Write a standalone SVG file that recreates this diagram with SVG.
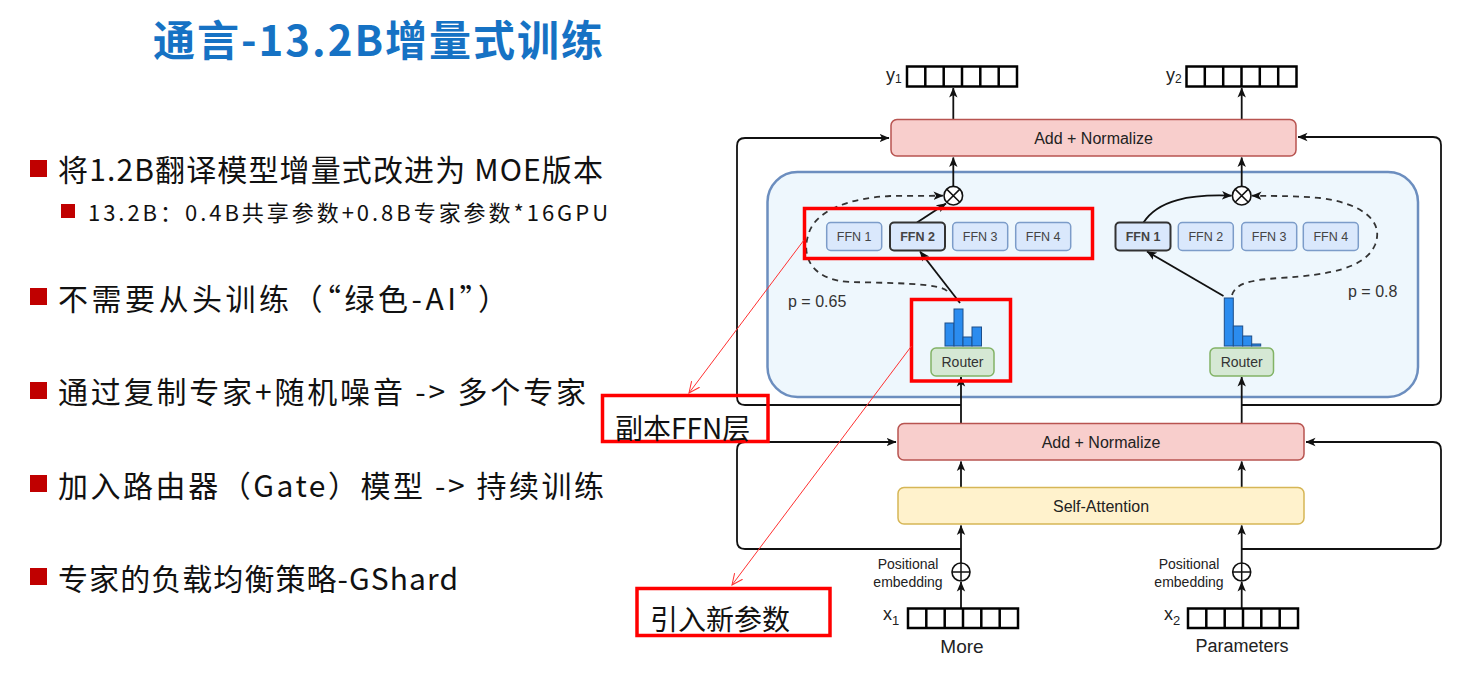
<svg xmlns="http://www.w3.org/2000/svg" width="1469" height="696" viewBox="0 0 1469 696">
  <style>
    .cjk { font-family: "Noto Sans CJK SC", "Noto Sans", sans-serif; }
    .lat { font-family: "Liberation Sans", Arial, sans-serif; }
    .bullet { fill: #c00000; }
    .btext { font-size: 30px; fill: #111; }
    .an { fill: #f8cecc; stroke: #b85450; stroke-width: 1.5; }
    .sa { fill: #fff2cc; stroke: #d6b656; stroke-width: 1.5; }
    .ffn { fill: #dae8fc; stroke: #7c9cc9; stroke-width: 1.5; }
    .ffnsel { fill: #dae8fc; stroke: #333; stroke-width: 2; }
    .router { fill: #d5e8d4; stroke: #82b366; stroke-width: 1.5; }
    .bar { fill: #2b8cef; stroke: #1d4e89; stroke-width: 1; }
    .conn { fill: none; stroke: #111; stroke-width: 1.8; }
    .dash { stroke: #333; stroke-dasharray: 6 5; }
    .vec { fill: #fff; stroke: #000; stroke-width: 2.5; }
    .redbox { fill: none; stroke: #ff0000; stroke-width: 3.5; }
    .redline { fill: none; stroke: #ff3030; stroke-width: 1; }
    .label { font-size: 16px; fill: #222; }
    .ffnt { font-size: 12.5px; fill: #444; }
    .op { fill: #fff; stroke: #111; stroke-width: 1.6; }
  </style>
  <defs>
    <marker id="arr" viewBox="0 0 10 10" refX="9.5" refY="5" markerWidth="10" markerHeight="10" markerUnits="userSpaceOnUse" orient="auto">
      <path d="M0,0.8 L10,5 L0,9.2 L2.6,5 z" fill="#111"/>
    </marker>
    <marker id="redarr" viewBox="0 0 12 12" refX="11" refY="6" markerWidth="12" markerHeight="12" markerUnits="userSpaceOnUse" orient="auto">
      <path d="M0,1 L11,6 L0,11" fill="none" stroke="#ff3030" stroke-width="1"/>
    </marker>
  </defs>
  <rect width="1469" height="696" fill="#fff"/>

  <g id="title">
    <text class="cjk" x="153" y="37" font-size="42" font-weight="bold" fill="#1672c4" dominant-baseline="central" textLength="450" lengthAdjust="spacing">通言-13.2B增量式训练</text>
  </g>

  <g id="bullets">
    <rect class="bullet" x="30" y="160" width="17" height="17"/>
    <text class="cjk btext" x="58" y="168" dominant-baseline="central" textLength="545" lengthAdjust="spacing">将1.2B翻译模型增量式改进为 MOE版本</text>
    <rect class="bullet" x="61" y="204" width="14" height="14"/>
    <text class="cjk" x="88" y="211" font-size="22" fill="#111" dominant-baseline="central" textLength="520" lengthAdjust="spacing">13.2B：0.4B共享参数+0.8B专家参数*16GPU</text>
    <rect class="bullet" x="30" y="288" width="17" height="17"/>
    <text class="cjk btext" x="58" y="297" dominant-baseline="central" textLength="450" lengthAdjust="spacing">不需要从头训练（“绿色-AI”）</text>
    <rect class="bullet" x="30" y="382" width="17" height="17"/>
    <text class="cjk btext" x="58" y="390" dominant-baseline="central" textLength="528" lengthAdjust="spacing">通过复制专家+随机噪音 -&gt; 多个专家</text>
    <rect class="bullet" x="30" y="475" width="17" height="17"/>
    <text class="cjk btext" x="58" y="484" dominant-baseline="central" textLength="546" lengthAdjust="spacing">加入路由器（Gate）模型 -&gt; 持续训练</text>
    <rect class="bullet" x="30" y="568" width="17" height="17"/>
    <text class="cjk btext" x="58" y="577" dominant-baseline="central" textLength="400" lengthAdjust="spacing">专家的负载均衡策略-GShard</text>
  </g>

  <!-- MoE container -->
  <g id="moe-block">
    <rect x="767.5" y="172" width="650.5" height="225" rx="30" fill="#eef7fd" stroke="#6c8ebf" stroke-width="2.5"/>
  </g>

  <!-- Connectors -->
  <g id="connectors">
    <path class="conn" d="M961,405 L745,405 Q737,405 737,397 L737,146 Q737,138 745,138 L889,138" marker-end="url(#arr)"/>
    <path class="conn" d="M1241.7,405 L1433,405 Q1441,405 1441,397 L1441,145 Q1441,137 1433,137 L1298,137" marker-end="url(#arr)"/>
    <path class="conn" d="M961,549 L745,549 Q737,549 737,541 L737,450 Q737,442 745,442 L896,442" marker-end="url(#arr)"/>
    <path class="conn" d="M1241.7,549 L1433,549 Q1441,549 1441,541 L1441,450 Q1441,442 1433,442 L1306,442" marker-end="url(#arr)"/>
    <path class="conn" d="M961,608 L961,582" marker-end="url(#arr)"/>
    <path class="conn" d="M961,563 L961,525.5" marker-end="url(#arr)"/>
    <path class="conn" d="M961,487.5 L961,461.5" marker-end="url(#arr)"/>
    <path class="conn" d="M961,423.5 L961,377" marker-end="url(#arr)"/>
    <path class="conn" d="M953.3,186 L953.3,157.5" marker-end="url(#arr)"/>
    <path class="conn" d="M953.3,119.5 L953.3,88" marker-end="url(#arr)"/>
    <path class="conn" d="M1241.7,608 L1241.7,582" marker-end="url(#arr)"/>
    <path class="conn" d="M1241.7,563 L1241.7,525.5" marker-end="url(#arr)"/>
    <path class="conn" d="M1241.7,487.5 L1241.7,461.5" marker-end="url(#arr)"/>
    <path class="conn" d="M1241.7,423.5 L1241.7,377" marker-end="url(#arr)"/>
    <path class="conn" d="M1241.7,186 L1241.7,157.5" marker-end="url(#arr)"/>
    <path class="conn" d="M1241.7,119.5 L1241.7,88" marker-end="url(#arr)"/>
    <path class="conn" d="M960,303 L920,251.5" marker-end="url(#arr)"/>
    <path class="conn" d="M917,222.5 L946,203.5" marker-end="url(#arr)"/>
    <path class="conn dash" d="M947,291 C940,283 890,283 850,282 C810,280 802,255 808,236 C814,210 850,198 890,196 L943,195.7" marker-end="url(#arr)"/>
    <path class="conn" d="M1223.5,296 L1147,251.5" marker-end="url(#arr)"/>
    <path class="conn" d="M1143.5,222.5 C1158,200 1190,194 1231.5,195.7" marker-end="url(#arr)"/>
    <path class="conn dash" d="M1232,295 C1236,283 1250,280 1280,278 C1330,275 1365,268 1375,245 C1385,220 1360,203 1320,198 C1300,196 1280,196 1252,195.7" marker-end="url(#arr)"/>
  </g>

  <g id="add-norm-top">
    <rect class="an" x="891" y="119.5" width="405" height="36.5" rx="6"/>
    <text class="lat label" x="1093.5" y="138" text-anchor="middle" dominant-baseline="central">Add + Normalize</text>
  </g>
  <g id="add-norm-bottom">
    <rect class="an" x="898" y="423.5" width="406" height="36.5" rx="6"/>
    <text class="lat label" x="1101" y="442" text-anchor="middle" dominant-baseline="central">Add + Normalize</text>
  </g>
  <g id="self-attention">
    <rect class="sa" x="898" y="487.5" width="406" height="36.5" rx="6"/>
    <text class="lat label" x="1101" y="506" text-anchor="middle" dominant-baseline="central">Self-Attention</text>
  </g>

  <g id="ffn-l1"><rect class="ffn" x="826.7" y="222.5" width="55" height="28" rx="4"/><text class="lat ffnt" x="854.2" y="236.5" text-anchor="middle" dominant-baseline="central">FFN 1</text></g>
  <g id="ffn-l2"><rect class="ffnsel" x="890" y="222.5" width="55" height="28" rx="4"/><text class="lat ffnt" x="917.5" y="236.5" text-anchor="middle" dominant-baseline="central" font-weight="bold" fill="#222">FFN 2</text></g>
  <g id="ffn-l3"><rect class="ffn" x="952.7" y="222.5" width="55" height="28" rx="4"/><text class="lat ffnt" x="980.2" y="236.5" text-anchor="middle" dominant-baseline="central">FFN 3</text></g>
  <g id="ffn-l4"><rect class="ffn" x="1015.7" y="222.5" width="55" height="28" rx="4"/><text class="lat ffnt" x="1043.2" y="236.5" text-anchor="middle" dominant-baseline="central">FFN 4</text></g>
  <g id="ffn-r1"><rect class="ffnsel" x="1115.5" y="222.5" width="55" height="28" rx="4"/><text class="lat ffnt" x="1143" y="236.5" text-anchor="middle" dominant-baseline="central" font-weight="bold" fill="#222">FFN 1</text></g>
  <g id="ffn-r2"><rect class="ffn" x="1178.3" y="222.5" width="55" height="28" rx="4"/><text class="lat ffnt" x="1205.8" y="236.5" text-anchor="middle" dominant-baseline="central">FFN 2</text></g>
  <g id="ffn-r3"><rect class="ffn" x="1241.7" y="222.5" width="55" height="28" rx="4"/><text class="lat ffnt" x="1269.2" y="236.5" text-anchor="middle" dominant-baseline="central">FFN 3</text></g>
  <g id="ffn-r4"><rect class="ffn" x="1303.3" y="222.5" width="55" height="28" rx="4"/><text class="lat ffnt" x="1330.8" y="236.5" text-anchor="middle" dominant-baseline="central">FFN 4</text></g>

  <g id="mul-left">
    <circle class="op" cx="953.3" cy="195.7" r="9.3"/>
    <path d="M946.7,189.1 L959.9,202.3 M959.9,189.1 L946.7,202.3" stroke="#111" stroke-width="1.5"/>
  </g>
  <g id="mul-right">
    <circle class="op" cx="1241.7" cy="195.7" r="9.3"/>
    <path d="M1235.1,189.1 L1248.3,202.3 M1248.3,189.1 L1235.1,202.3" stroke="#111" stroke-width="1.5"/>
  </g>

  <g id="router-left">
    <rect class="bar" x="945" y="323" width="9" height="23"/>
    <rect class="bar" x="954" y="309" width="9" height="37"/>
    <rect class="bar" x="963" y="337" width="9" height="9"/>
    <rect class="bar" x="972" y="327" width="9.5" height="19"/>
    <rect class="router" x="931" y="348" width="63" height="28" rx="5"/>
    <text class="lat" x="962.5" y="362" font-size="14" fill="#333" text-anchor="middle" dominant-baseline="central">Router</text>
  </g>
  <g id="router-right">
    <rect class="bar" x="1224.3" y="298" width="9" height="48"/>
    <rect class="bar" x="1233.3" y="326" width="9.4" height="20"/>
    <rect class="bar" x="1242.7" y="336" width="9" height="10"/>
    <rect class="bar" x="1251.7" y="344" width="9" height="2"/>
    <rect class="router" x="1210" y="348" width="63.5" height="28" rx="5"/>
    <text class="lat" x="1241.7" y="362" font-size="14" fill="#333" text-anchor="middle" dominant-baseline="central">Router</text>
  </g>

  <g id="prob-labels">
    <text class="lat" x="788" y="301" font-size="16" fill="#333" dominant-baseline="central">p = 0.65</text>
    <text class="lat" x="1348" y="291" font-size="16" fill="#333" dominant-baseline="central">p = 0.8</text>
  </g>

  <g id="pos-left">
    <circle class="op" cx="961" cy="572" r="9"/>
    <path d="M952,572 L970,572 M961,563 L961,581" stroke="#111" stroke-width="1.5"/>
    <text class="lat" x="908" y="564" font-size="14" fill="#222" text-anchor="middle" dominant-baseline="central">Positional</text>
    <text class="lat" x="908" y="582" font-size="14" fill="#222" text-anchor="middle" dominant-baseline="central">embedding</text>
  </g>
  <g id="pos-right">
    <circle class="op" cx="1241.7" cy="572" r="9"/>
    <path d="M1232.7,572 L1250.7,572 M1241.7,563 L1241.7,581" stroke="#111" stroke-width="1.5"/>
    <text class="lat" x="1189" y="564" font-size="14" fill="#222" text-anchor="middle" dominant-baseline="central">Positional</text>
    <text class="lat" x="1189" y="582" font-size="14" fill="#222" text-anchor="middle" dominant-baseline="central">embedding</text>
  </g>

  <g id="vec-y1">
    <rect class="vec" x="907" y="66.5" width="110" height="20"/>
    <path d="M925.3,66.5 V86.5 M943.7,66.5 V86.5 M962,66.5 V86.5 M980.3,66.5 V86.5 M998.7,66.5 V86.5" stroke="#000" stroke-width="2.5"/>
    <text class="lat" x="886" y="75" font-size="18" fill="#222" dominant-baseline="central">y<tspan font-size="12" dy="4">1</tspan></text>
  </g>
  <g id="vec-y2">
    <rect class="vec" x="1186.5" y="66.5" width="110" height="20"/>
    <path d="M1204.8,66.5 V86.5 M1223.2,66.5 V86.5 M1241.5,66.5 V86.5 M1259.8,66.5 V86.5 M1278.2,66.5 V86.5" stroke="#000" stroke-width="2.5"/>
    <text class="lat" x="1166" y="75" font-size="18" fill="#222" dominant-baseline="central">y<tspan font-size="12" dy="4">2</tspan></text>
  </g>
  <g id="vec-x1">
    <rect class="vec" x="908" y="608.5" width="110" height="19.5"/>
    <path d="M926.3,608.5 V628 M944.7,608.5 V628 M963,608.5 V628 M981.3,608.5 V628 M999.7,608.5 V628" stroke="#000" stroke-width="2.5"/>
    <text class="lat" x="883" y="614" font-size="18" fill="#222" dominant-baseline="central">x<tspan font-size="13" dy="6">1</tspan></text>
    <text class="lat" x="962" y="646" font-size="19" fill="#222" text-anchor="middle" dominant-baseline="central">More</text>
  </g>
  <g id="vec-x2">
    <rect class="vec" x="1188" y="608.5" width="110" height="19.5"/>
    <path d="M1206.3,608.5 V628 M1224.7,608.5 V628 M1243,608.5 V628 M1261.3,608.5 V628 M1279.7,608.5 V628" stroke="#000" stroke-width="2.5"/>
    <text class="lat" x="1164" y="614" font-size="18" fill="#222" dominant-baseline="central">x<tspan font-size="13" dy="6">2</tspan></text>
    <text class="lat" x="1242" y="646" font-size="18" fill="#222" text-anchor="middle" dominant-baseline="central">Parameters</text>
  </g>

  <g id="annot-ffn">
    <rect class="redbox" x="804.5" y="208.5" width="288" height="50"/>
    <path class="redline" d="M804,240 L689,393" marker-end="url(#redarr)"/>
    <rect class="redbox" x="602.5" y="395.5" width="165.5" height="46"/>
    <text class="cjk" x="615" y="427" font-size="28" fill="#111" dominant-baseline="central">副本FFN层</text>
  </g>
  <g id="annot-router">
    <rect class="redbox" x="911.5" y="299.5" width="99" height="81.5"/>
    <path class="redline" d="M911.5,346 L732,585" marker-end="url(#redarr)"/>
    <rect class="redbox" x="637" y="588.5" width="193" height="47"/>
    <text class="cjk" x="650" y="618" font-size="28" fill="#111" dominant-baseline="central">引入新参数</text>
  </g>
</svg>
